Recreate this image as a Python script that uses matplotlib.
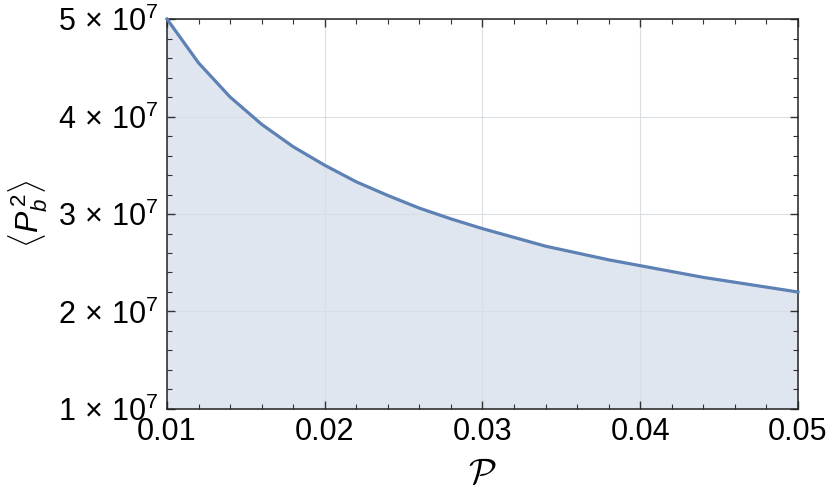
import matplotlib
matplotlib.use('Agg')
import matplotlib.pyplot as plt
from matplotlib.ticker import MultipleLocator, FuncFormatter

# values (x = script P, y = <P_b^2>)
p_vals = [0.010, 0.012, 0.014, 0.016, 0.018, 0.020, 0.022, 0.024, 0.026, 0.028,
          0.030, 0.032, 0.034, 0.036, 0.038, 0.040, 0.042, 0.044, 0.046, 0.048, 0.050]
pb2_vals = [5.00e7, 4.55e7, 4.20e7, 3.92e7, 3.69e7, 3.50e7, 3.33e7, 3.19e7, 3.06e7, 2.95e7,
            2.85e7, 2.76e7, 2.67e7, 2.60e7, 2.53e7, 2.47e7, 2.41e7, 2.35e7, 2.30e7, 2.25e7, 2.20e7]
x_ticks = [0.01, 0.02, 0.03, 0.04, 0.05]
y_ticks = [1e7, 2e7, 3e7, 4e7, 5e7]

plt.rcParams['font.family'] = ['Liberation Sans', 'DejaVu Sans']
plt.rcParams['mathtext.fontset'] = 'custom'
plt.rcParams['mathtext.rm'] = 'Liberation Sans'
plt.rcParams['mathtext.it'] = 'Liberation Sans:italic'
plt.rcParams['mathtext.bf'] = 'Liberation Sans:bold'

line_color = '#5e81b5'
fill_color = (223/255, 230/255, 240/255)

fig = plt.figure(figsize=(8.3, 5.03), dpi=100)
ax = fig.add_axes([0.2012, 0.1869, 0.7602, 0.7753])

ax.fill_between(p_vals, 1e7, pb2_vals, color=fill_color, lw=0, zorder=1)
ax.plot(p_vals, pb2_vals, color=line_color, lw=2.3, zorder=3, clip_on=False)

ax.set_xlim(0.01, 0.05)
ax.set_ylim(1e7, 5e7)
ax.set_xticks(x_ticks)
ax.set_yticks(y_ticks)
ax.xaxis.set_minor_locator(MultipleLocator(0.002))
ax.yaxis.set_minor_locator(MultipleLocator(2e6))

def fmt_x(v, pos):
    return '%.2f' % v

def fmt_y(v, pos):
    return r'$%d\,\times\,10^{7}$' % round(v / 1e7)

ax.xaxis.set_major_formatter(FuncFormatter(fmt_x))
ax.yaxis.set_major_formatter(FuncFormatter(fmt_y))

ax.tick_params(which='both', direction='in', top=True, right=True,
               labelsize=22, color='#333333')
ax.tick_params(which='major', length=5.5, width=1.0, pad=6)
ax.tick_params(which='minor', length=3.3, width=0.8)
for s in ax.spines.values():
    s.set_linewidth(1.1)
    s.set_color('#222222')

ax.grid(True, which='major', color='#dadde2', lw=0.8, zorder=2)
for gl in ax.get_xgridlines() + ax.get_ygridlines():
    gl.set_zorder(2)

ax.set_xlabel(r'$\mathcal{P}$', fontsize=26, math_fontfamily='cm', labelpad=6)
ax.set_ylabel(r'$\langle P_b^{\,2}\rangle$', fontsize=23, labelpad=6)

fig.savefig('out.png', dpi=100)
